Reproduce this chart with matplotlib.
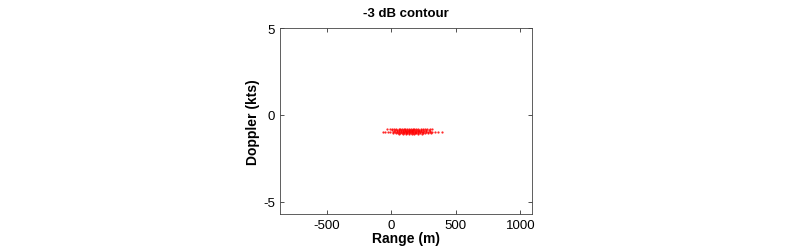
import numpy as np
import matplotlib as mpl
import matplotlib.pyplot as plt

mpl.rc("figure", dpi=100)
plt.rcParams.update({
    'font.family': ['Liberation Sans', 'DejaVu Sans'],
    'xtick.labelsize': 9.5,
    'ytick.labelsize': 9.5,
    'axes.labelsize': 10,
    'axes.unicode_minus': False,
})

# -3 dB contour samples, grouped by doppler row (kts) -> ranges (m)
dop_a = -0.78
rng_a = [-30, -12, 5, 22, 40, 58, 70, 85, 98, 110, 124, 140, 152, 168, 180, 195, 210, 228, 245, 262, 280, 300, 320]
dop_b = -0.86
rng_b = [10, 30, 48, 62, 80, 95, 108, 120, 135, 148, 160, 172, 186, 200, 214, 230, 250, 270, 290]
dop_c = -0.94
rng_c = [20, 42, 60, 75, 90, 104, 116, 128, 140, 152, 164, 176, 190, 204, 218, 234, 252, 272, 300]
dop_d = -1.00
rng_d = [-64, -45, -25, -8, 12, 30, 46, 60, 74, 88, 100, 112, 124, 136, 148, 160, 172, 184, 196, 208, 222, 236, 250, 266, 282, 300, 318, 340, 365, 393]
dop_e = -1.06
rng_e = [15, 35, 52, 68, 84, 98, 112, 126, 140, 154, 168, 182, 196, 210, 226, 244, 262, 285, 310]
dop_f = -1.12
rng_f = [60, 90, 115, 140, 160, 180, 205, 235]

rows = [(dop_a, rng_a), (dop_b, rng_b), (dop_c, rng_c),
        (dop_d, rng_d), (dop_e, rng_e), (dop_f, rng_f)]

fig = plt.figure(figsize=(8, 2.53))
ax = fig.add_axes([0.35, 0.150, 0.315, 0.735])

for dop, rng in rows:
    ax.plot(rng, [dop] * len(rng), linestyle='none', marker='.',
            markersize=1.2, color='red', alpha=0.85)

ax.set_xlim(-860, 1090)
ax.set_ylim(-5.7, 5)
ax.set_xticks([-500, 0, 500, 1000])
ax.set_yticks([-5, 0, 5])
ax.tick_params(direction='in', top=True, right=True, length=3, width=0.6, colors='#333333', labelcolor='black')
for s in ax.spines.values():
    s.set_linewidth(0.6)
    s.set_color('#444444')

ax.set_xlabel('Range (m)', fontweight='bold', labelpad=0)
ax.set_ylabel('Doppler (kts)', fontweight='bold', labelpad=2)
ax.set_title('-3 dB contour', fontweight='bold', fontsize=9.5, pad=9)

plt.savefig("out.png", format="png")
plt.close()
